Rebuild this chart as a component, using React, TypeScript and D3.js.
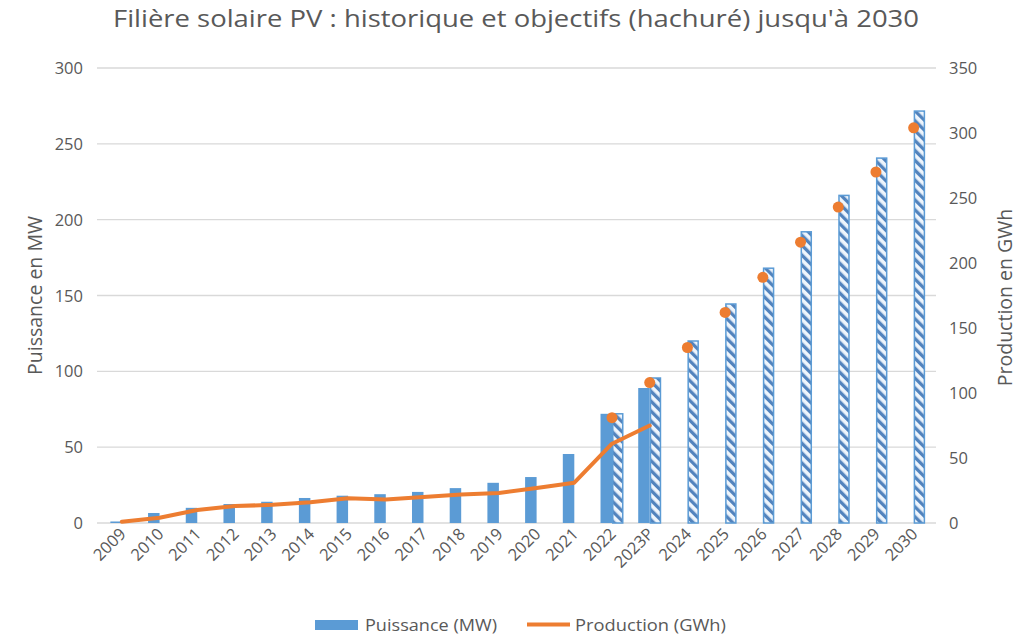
import React from 'react';
import * as d3 from 'd3';

// Catégories (années)
const categories = [
  '2009', '2010', '2011', '2012', '2013', '2014', '2015', '2016', '2017', '2018', '2019',
  '2020', '2021', '2022', '2023P', '2024', '2025', '2026', '2027', '2028', '2029', '2030',
];

// Puissance historique (MW), 2009 -> 2023P
const puissanceHisto = [1, 6.6, 10, 12.5, 14, 16.5, 18, 19, 20.5, 23, 26.5, 30.3, 45.5, 72, 89];
// Puissance objectifs (MW, hachuré), 2022 -> 2030
const puissanceObjectifs = [72, 95.6, 120, 144.4, 168, 192, 216, 240.6, 271.6];
// Production historique (GWh), 2009 -> 2023P
const productionHisto = [1, 4, 10, 13, 14, 16, 19, 18, 20, 22, 23, 27, 31, 61, 75];
// Production objectifs (GWh), 2022 -> 2030
const productionObjectifs = [81, 108, 135, 162, 189, 216, 243, 270, 304];

const leftTicks = [0, 50, 100, 150, 200, 250, 300];
const rightTicks = [0, 50, 100, 150, 200, 250, 300, 350];

const histoYears = categories.slice(0, puissanceHisto.length);
const objYears = categories.slice(categories.length - puissanceObjectifs.length);

const width = 1018;
const height = 635;
const font = '"Open Sans", Lato, sans-serif';
const textColor = '#595959';
const blue = '#5b9bd5';
const orange = '#ed7d31';

const App: React.FC = () => {
  const x = d3.scaleBand<string>().domain(categories).range([103, 932.5]).paddingInner(0);
  const inner = d3
    .scaleBand<string>()
    .domain(['histo', 'obj'])
    .range([0, x.bandwidth()])
    .paddingInner(0)
    .paddingOuter(0.64);
  const yL = d3.scaleLinear().domain([0, 300]).range([523, 68]);
  const yR = d3.scaleLinear().domain([0, 350]).range([523, 68]);
  const center = (c: string) => (x(c) ?? 0) + x.bandwidth() / 2;

  const line = d3
    .line<number>()
    .x((_, i) => center(histoYears[i]))
    .y((d) => yR(d));

  return (
    <svg
      width={width}
      height={height}
      style={{ position: 'absolute', left: 0, top: 0, background: '#fff' }}
      fontFamily={font}
    >
      <defs>
        <pattern
          id="hatch"
          width={7}
          height={7}
          patternUnits="userSpaceOnUse"
          patternTransform="rotate(-45)"
        >
          <rect width={7} height={7} fill="#eef5fc" />
          <rect width={3.3} height={7} fill="#5283bd" />
        </pattern>
      </defs>
      <rect width={width} height={height} fill="#fff" />

      {/* Title */}
      <text x={516} y={27} textAnchor="middle" fontSize={24} fill={textColor} textLength={806} lengthAdjust="spacingAndGlyphs">
        Filière solaire PV : historique et objectifs (hachuré) jusqu'à 2030
      </text>

      {/* Gridlines */}
      {leftTicks.map((t) => (
        <line key={t} x1={97} x2={936} y1={yL(t)} y2={yL(t)} stroke="#d9d9d9" strokeWidth={1.3} />
      ))}

      {/* Left axis */}
      {leftTicks.map((t) => (
        <text key={t} x={83} y={yL(t) + 6} textAnchor="end" fontSize={16.5} fill={textColor}>
          {t}
        </text>
      ))}
      <text
        transform={`translate(42,${yL(150)}) rotate(-90)`}
        textAnchor="middle"
        fontSize={19.5}
        fill={textColor}
      >
        Puissance en MW
      </text>

      {/* Right axis */}
      {rightTicks.map((t) => (
        <text key={t} x={949} y={yR(t) + 6} textAnchor="start" fontSize={16.5} fill={textColor}>
          {t}
        </text>
      ))}
      <text
        transform={`translate(1012,${yR(175) + 2}) rotate(-90)`}
        textAnchor="middle"
        fontSize={19.5}
        fill={textColor}
      >
        Production en GWh
      </text>

      {/* Historical bars */}
      {puissanceHisto.map((v, i) => {
        const c = histoYears[i];
        return (
          <rect
            key={c}
            x={(x(c) ?? 0) + (inner('histo') ?? 0)}
            y={yL(v)}
            width={inner.bandwidth()}
            height={yL(0) - yL(v)}
            fill={blue}
          />
        );
      })}

      {/* Objective bars (hatched) */}
      {puissanceObjectifs.map((v, i) => {
        const c = objYears[i];
        return (
          <rect
            key={c}
            x={(x(c) ?? 0) + (inner('obj') ?? 0) + 0.75}
            y={yL(v)}
            width={inner.bandwidth() - 1.5}
            height={yL(0) - yL(v)}
            fill="url(#hatch)"
            stroke={blue}
            strokeWidth={1.5}
          />
        );
      })}

      {/* Production line */}
      <path
        d={line(productionHisto) ?? ''}
        fill="none"
        stroke={orange}
        strokeWidth={4}
        strokeLinejoin="round"
        strokeLinecap="round"
      />

      {/* Production objectives */}
      {productionObjectifs.map((v, i) => (
        <circle key={objYears[i]} cx={center(objYears[i])} cy={yR(v)} r={5.5} fill={orange} />
      ))}

      {/* X labels */}
      {categories.map((c) => (
        <text
          key={c}
          transform={`translate(${center(c) + 5},${535}) rotate(-45)`}
          textAnchor="end"
          fontSize={16.5}
          fill={textColor}
        >
          {c}
        </text>
      ))}

      {/* Legend */}
      <rect x={315} y={620} width={43} height={10} fill={blue} />
      <text x={365} y={631} fontSize={16.5} fill={textColor} textLength={132} lengthAdjust="spacingAndGlyphs">
        Puissance (MW)
      </text>
      <line x1={527} x2={570} y1={624.5} y2={624.5} stroke={orange} strokeWidth={4} />
      <text x={575} y={631} fontSize={16.5} fill={textColor} textLength={151} lengthAdjust="spacingAndGlyphs">
        Production (GWh)
      </text>
    </svg>
  );
};

export default App;
